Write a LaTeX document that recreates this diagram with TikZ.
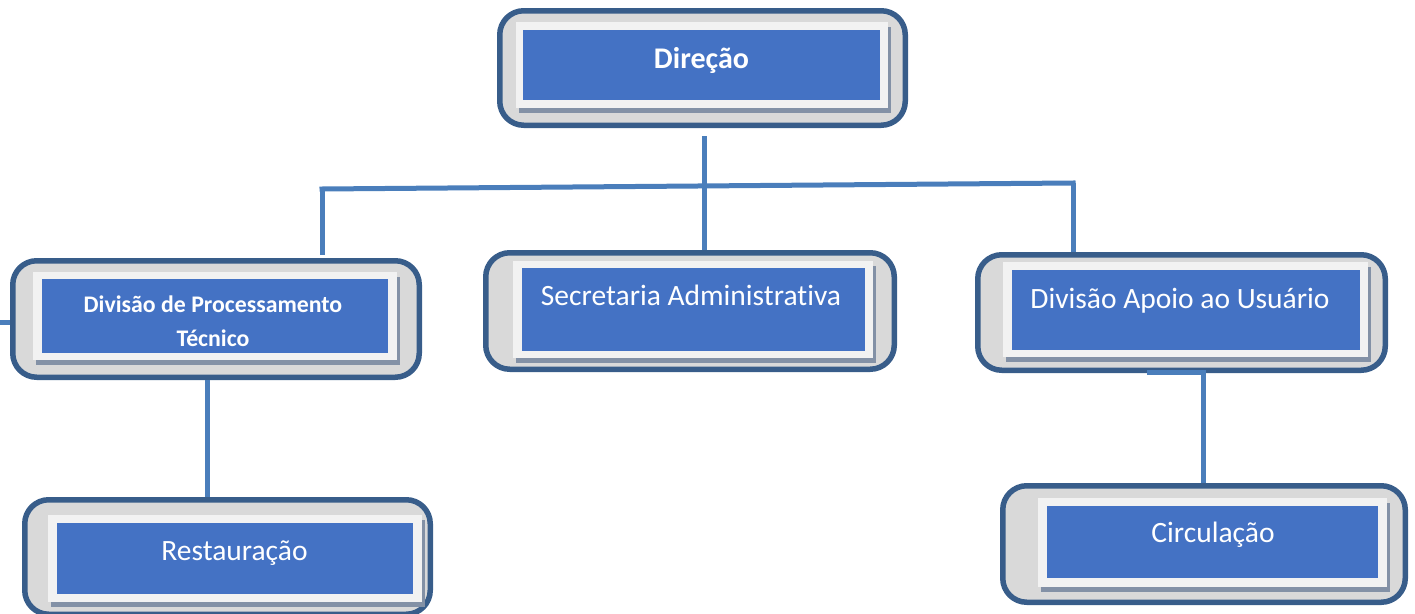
\documentclass[tikz,border=0pt]{standalone}
\usepackage{fontspec}
\setmainfont{Carlito}[RawFeature=-liga]
\usetikzlibrary{shadows}

\definecolor{frameblue}{HTML}{385D8A}
\definecolor{framefill}{HTML}{D9D9D9}
\definecolor{panefill}{HTML}{F2F2F2}
\definecolor{paneshadow}{HTML}{8391A6}
\definecolor{cardblue}{HTML}{4472C4}
\definecolor{linkblue}{HTML}{4A7EBB}

\begin{document}
\begin{tikzpicture}[x=1pt, y=-1pt,
    frame/.style = {draw=frameblue, fill=framefill, line width=5.5pt, rounded corners=24pt, inner sep=0pt},
    pane/.style = {fill=panefill, inner sep=0pt, drop shadow={shadow xshift=3pt, shadow yshift=-5pt, fill=paneshadow, opacity=1}},
    card/.style = {fill=cardblue, inner sep=0pt},
    label/.style = {text=white, anchor=base, inner sep=0pt, font=\fontsize{29.5}{34}\selectfont},
    boldlabel/.style = {label, font=\bfseries\fontsize{30}{34}\selectfont},
    link/.style = {draw=linkblue, line width=5pt}]
    \useasboundingbox (0,0) rectangle (1415,613);

    % Direcao
    \node[frame, minimum width=405.5pt, minimum height=114.5pt] (dir) at (702.5,68) {};
    \node[pane, minimum width=372pt, minimum height=86pt] (dirpane) at (702,65) {};
    \node[card, minimum width=357pt, minimum height=70pt] (dircard) at (701.5,65) {};
    \node[boldlabel] (dirlbl) at (701.5,68) {Direção};

    % Divisao de Processamento Tecnico
    \node[frame, minimum width=406.5pt, minimum height=116.5pt] (dpt) at (216,319) {};
    \node[pane, minimum width=364pt, minimum height=88pt] (dptpane) at (215,316) {};
    \node[card, minimum width=346pt, minimum height=74pt] (dptcard) at (215,316) {};
    \node[boldlabel, align=center, font=\bfseries\fontsize{23.8}{34}\selectfont] (dptlbl) at (213,346.5) {Divisão de Processamento\\Técnico};

    % Secretaria Administrativa
    \node[frame, minimum width=408.5pt, minimum height=116.5pt] (sec) at (690,311) {};
    \node[pane, minimum width=360pt, minimum height=97pt] (secpane) at (693,309.5) {};
    \node[card, minimum width=343pt, minimum height=83pt] (seccard) at (693.5,309.5) {};
    \node[label] (seclbl) at (691,305) {Secretaria Administrativa};

    % Divisao Apoio ao Usuario
    \node[frame, minimum width=407.5pt, minimum height=115.5pt] (apo) at (1181.5,312.5) {};
    \node[pane, minimum width=365pt, minimum height=95pt] (apopane) at (1185.5,309.5) {};
    \node[card, minimum width=348pt, minimum height=80pt] (apocard) at (1186,310) {};
    \node[label] (apolbl) at (1180,308.3) {Divisão Apoio ao Usuário};

    % Restauracao
    \node[frame, minimum width=405.5pt, minimum height=114.5pt] (res) at (227.5,557) {};
    \node[pane, minimum width=374pt, minimum height=87pt] (respane) at (235,558.5) {};
    \node[card, minimum width=356pt, minimum height=71pt] (rescard) at (235,558.5) {};
    \node[label] (reslbl) at (234.5,560.7) {Restauração};

    % Circulacao
    \node[frame, minimum width=402.5pt, minimum height=116.5pt] (cir) at (1204,544) {};
    \node[pane, minimum width=349pt, minimum height=89pt] (cirpane) at (1212.5,542.5) {};
    \node[card, minimum width=331pt, minimum height=72pt] (circard) at (1212.5,542) {};
    \node[label] (cirlbl) at (1213,542.7) {Circulação};

    % ligacoes
    \coordinate (jl) at (322,189);
    \coordinate (jr) at (1073,183);
    \coordinate (stub) at (0,322);
    \draw[link] ([shift={(1.5,8)}]dir.south) -- ([xshift=14pt]sec.north);
    \draw[link, line cap=rect] (jl) -- (jr);
    \draw[link] (jl) -- ([yshift=3pt]jl |- dpt.north);
    \draw[link] (jr) -- (jr |- apo.north);
    \draw[link] ([xshift=-9pt]dpt.south) -- ([xshift=-9pt]dpt.south |- res.north);
    \draw[link] ([shift={(-34.5,-1)}]apo.south) -- ([shift={(21.5,-1)}]apo.south) -- ([xshift=21.5pt]apo.south |- cir.north);
    \draw[link] (stub) -- (stub -| dpt.west);
\end{tikzpicture}
\end{document}
